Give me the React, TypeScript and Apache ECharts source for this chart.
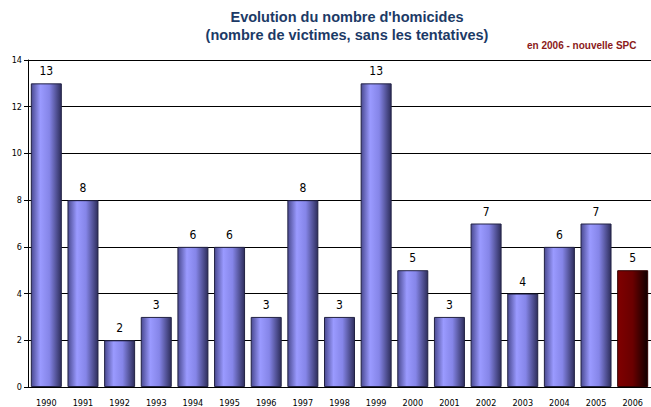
import React, { useEffect, useRef } from "react";
import * as echarts from "echarts";

const years = ["1990","1991","1992","1993","1994","1995","1996","1997","1998","1999","2000","2001","2002","2003","2004","2005","2006"];
const victims = [13, 8, 2, 3, 6, 6, 3, 8, 3, 13, 5, 3, 7, 4, 6, 7, 5];
const highlightYear = "2006";
const yTicks = [0, 2, 4, 6, 8, 10, 12, 14];
const titleLines = ["Evolution du nombre d'homicides", "(nombre de victimes, sans les tentatives)"];
const note = "en 2006 - nouvelle SPC";

export default function App() {
  const ref = useRef<HTMLDivElement>(null);
  useEffect(() => {
    if (!ref.current) return;
    const chart = echarts.init(ref.current, null, { renderer: "svg" });
    const blue = new echarts.graphic.LinearGradient(0, 0, 1, 0, [
      { offset: 0, color: "#4a4a90" },
      { offset: 0.3, color: "#9a9aff" },
      { offset: 0.6, color: "#8585e8" },
      { offset: 1, color: "#2e2e5c" },
    ]);
    const red = new echarts.graphic.LinearGradient(0, 0, 1, 0, [
      { offset: 0, color: "#800000" },
      { offset: 0.5, color: "#6a0000" },
      { offset: 1, color: "#100000" },
    ]);
    const titleFont = {
      fontFamily: "Liberation Sans, Arial, sans-serif",
      fontSize: 14.5,
      fontWeight: "bold" as const,
      fill: "#1c3a66",
      textAlign: "center" as const,
      textVerticalAlign: "top" as const,
    };
    chart.setOption({
      animation: false,
      backgroundColor: "#ffffff",
      graphic: [
        { type: "text", x: 347, y: 9, style: { ...titleFont, text: titleLines[0] } },
        { type: "text", x: 347, y: 27, style: { ...titleFont, text: titleLines[1] } },
        {
          type: "text",
          x: 527,
          y: 40,
          style: {
            text: note,
            fontFamily: "Liberation Sans, Arial, sans-serif",
            fontSize: 10,
            fontWeight: "bold",
            fill: "#8b1a1a",
            textVerticalAlign: "top",
          },
        },
      ],
      grid: { left: 28, top: 60, width: 628, height: 327, containLabel: false },
      xAxis: {
        type: "category",
        data: years,
        axisLine: { show: true, lineStyle: { color: "#000", width: 1 } },
        axisTick: { show: false },
        axisLabel: {
          interval: 0,
          margin: 11,
          fontFamily: "DejaVu Sans Condensed, DejaVu Sans, sans-serif",
          fontSize: 9,
          color: "#000",
        },
      },
      yAxis: {
        type: "value",
        min: 0,
        max: 14,
        interval: 2,
        axisLine: { show: true, lineStyle: { color: "#000", width: 1 } },
        axisTick: { show: true, inside: false, length: 4, lineStyle: { color: "#000" } },
        axisLabel: {
          margin: 6,
          fontFamily: "DejaVu Sans Condensed, DejaVu Sans, sans-serif",
          fontSize: 9,
          color: "#000",
          formatter: (v: number) => (yTicks.includes(v) ? String(v) : ""),
        },
        splitLine: { show: true, lineStyle: { color: "#000", width: 1 } },
      },
      series: [
        {
          type: "bar",
          barWidth: 31,
          data: victims.map((v, i) => ({
            value: v,
            itemStyle: {
              color: years[i] === highlightYear ? red : blue,
              borderColor: years[i] === highlightYear ? "#300000" : "#222244",
              borderWidth: 1,
            },
          })),
          label: {
            show: true,
            position: "top",
            distance: 6,
            fontFamily: "DejaVu Sans Condensed, DejaVu Sans, sans-serif",
            fontSize: 12,
            color: "#000",
          },
        },
      ],
    });
    return () => chart.dispose();
  }, []);
  return (
    <div
      ref={ref}
      style={{ position: "absolute", left: 0, top: 0, width: 651, height: 407 }}
    />
  );
}
